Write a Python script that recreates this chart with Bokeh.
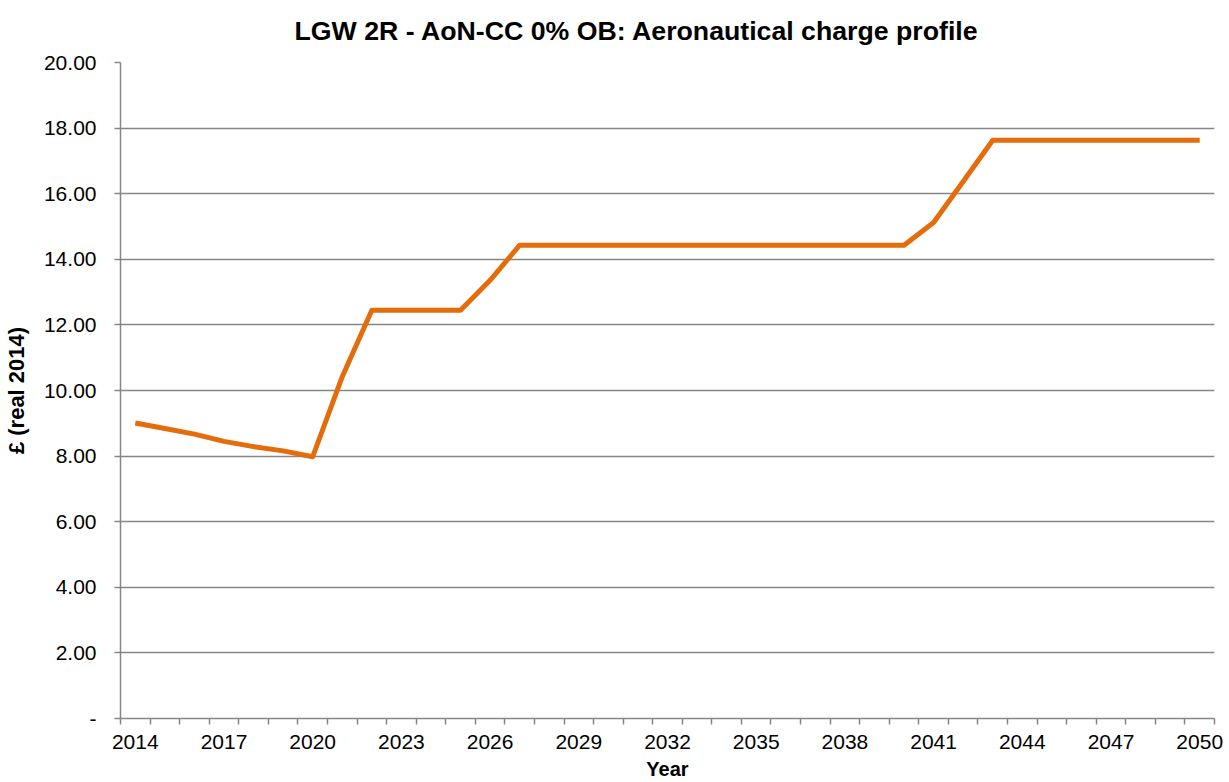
from bokeh.plotting import figure
from bokeh.models import FixedTicker, Range1d
from bokeh.embed import file_html
from bokeh.resources import INLINE

# ---- data ----
years = list(range(2014, 2051))
charge = [9.01, 8.84, 8.67, 8.45, 8.29, 8.16, 7.98,
          10.42, 12.45, 12.45, 12.45, 12.45, 13.36, 14.43,
          14.43, 14.43, 14.43, 14.43, 14.43, 14.43, 14.43, 14.43, 14.43, 14.43, 14.43, 14.43,
          14.43, 15.12, 16.37, 17.63,
          17.63, 17.63, 17.63, 17.63, 17.63, 17.63, 17.63]
x_label_years = list(range(2014, 2051, 3))
y_ticks = [0, 2, 4, 6, 8, 10, 12, 14, 16, 18, 20]
y_tick_labels = ["-", "2.00", "4.00", "6.00", "8.00", "10.00", "12.00",
                 "14.00", "16.00", "18.00", "20.00"]
title_text = "LGW 2R - AoN-CC 0% OB: Aeronautical charge profile"
x_title = "Year"
y_title = "£ (real 2014)"

FONT = "Liberation Sans"
GREY = "#868686"

# category positions (Excel category axis: points at the centre of each category)
xs = [y - years[0] for y in years]
n = len(years)
y_max = y_ticks[-1]

p = figure(width=1225, height=782, output_backend="svg", toolbar_location=None,
           x_range=Range1d(-0.5, n - 0.5), y_range=Range1d(0, y_max),
           min_border_left=120, min_border_right=11, min_border_top=62,
           min_border_bottom=64)

p.title.text = title_text
p.title.align = "left"
p.title.offset = 174
p.title.vertical_align = "top"
p.title.standoff = 29
p.title.text_font = FONT
p.title.text_font_size = "26.7px"
p.title.text_font_style = "bold"
p.title.text_color = "#000000"

p.outline_line_color = None
p.background_fill_color = "white"
p.border_fill_color = "white"

# x axis (below): labels every 3 years, tick marks between categories
xa = p.below[0]
xa.ticker = FixedTicker(ticks=[y - years[0] for y in x_label_years],
                        minor_ticks=[i - 0.5 for i in range(n + 1)])
xa.major_label_overrides = {y - years[0]: str(y) for y in x_label_years}
xa.major_tick_in = 0
xa.major_tick_out = 0
xa.minor_tick_in = 0
xa.minor_tick_out = 6
xa.minor_tick_line_color = GREY
xa.minor_tick_line_width = 1.5
xa.axis_line_color = GREY
xa.axis_line_width = 1.5
xa.major_label_text_font = FONT
xa.major_label_text_font_size = "21px"
xa.major_label_text_color = "#000000"
xa.major_label_standoff = 10
xa.axis_label = x_title
xa.axis_label_text_font = FONT
xa.axis_label_text_font_size = "20px"
xa.axis_label_text_font_style = "bold"
xa.axis_label_text_color = "#000000"
xa.axis_label_standoff = 6

# y axis
ya = p.left[0]
ya.ticker = FixedTicker(ticks=y_ticks, minor_ticks=[])
ya.major_label_overrides = {t: lab for t, lab in zip(y_ticks, y_tick_labels)}
ya.major_tick_in = 0
ya.major_tick_out = 6
ya.major_tick_line_color = GREY
ya.major_tick_line_width = 1.5
ya.minor_tick_out = 0
ya.minor_tick_in = 0
ya.axis_line_color = GREY
ya.axis_line_width = 1.5
ya.major_label_text_font = FONT
ya.major_label_text_font_size = "21px"
ya.major_label_text_color = "#000000"
ya.major_label_standoff = 18
ya.axis_label = y_title
ya.axis_label_text_font = FONT
ya.axis_label_text_font_size = "22px"
ya.axis_label_text_font_style = "bold"
ya.axis_label_text_color = "#000000"
ya.axis_label_standoff = 12

p.xgrid.visible = False
p.ygrid.ticker = FixedTicker(ticks=y_ticks[1:])
p.ygrid.grid_line_color = GREY
p.ygrid.grid_line_width = 1.5

p.line(xs, charge, line_width=5, line_color="#E46C0A", line_join="round")

open("out.html", "w").write(file_html(p, INLINE))
